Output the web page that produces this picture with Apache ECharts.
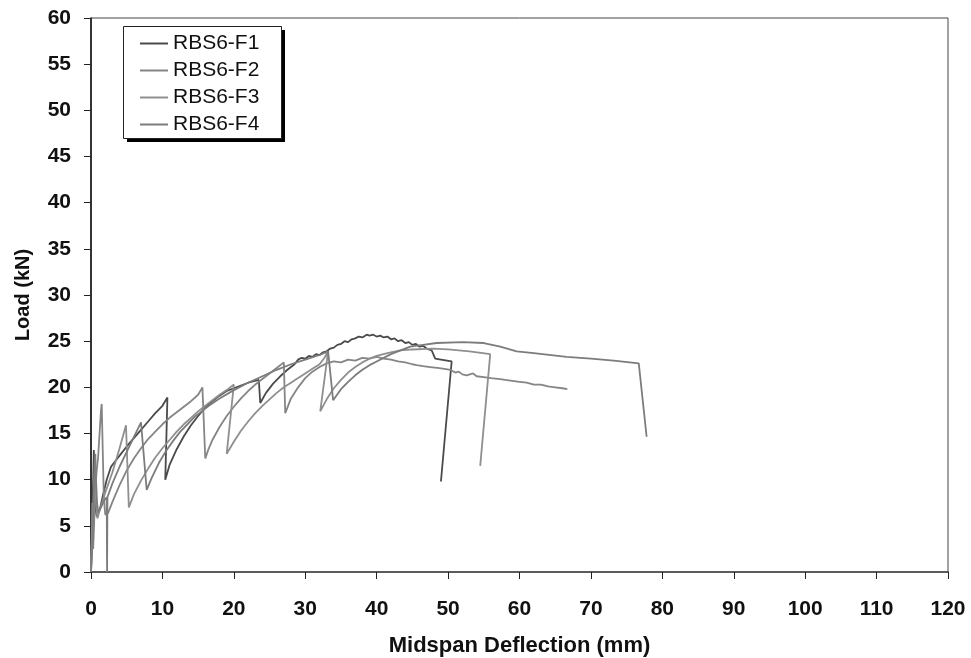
<!DOCTYPE html>
<html>
<head>
<meta charset="utf-8">
<script src="https://cdn.jsdelivr.net/npm/echarts@6/dist/echarts.min.js"></script>
<style>html,body{margin:0;padding:0;background:#fff}#c{width:971px;height:658px}</style>
</head>
<body>
<div id="c"></div>
<script>
var seriesNames = ['RBS6-F1', 'RBS6-F2', 'RBS6-F3', 'RBS6-F4'];
var xTicks = [0, 10, 20, 30, 40, 50, 60, 70, 80, 90, 100, 110, 120];
var yTicks = [0, 5, 10, 15, 20, 25, 30, 35, 40, 45, 50, 55, 60];

var f1 = [[0,0],[0.1,2.5],[0.2,6],[0.3,10],[0.4,13.2],[0.5,10],[0.6,7],[0.8,6],[1.0,6.2],[1.3,7],[1.7,8.4],[2.2,10.0],[2.8,11.4],[4,12.6],[5,13.6],[6,14.5],[7,15.4],[8,16.3],[9,17.2],[10,18.0],[10.7,18.9],[10.4,10.0],[11,11.6],[12,13.3],[13,14.7],[14,15.9],[15,16.9],[16,17.8],[17,18.5],[18,19.1],[19,19.6],[20,19.9],[21,20.2],[22,20.5],[23.5,20.8],[23.7,18.3],[24.5,19.4],[25.5,20.4],[26.5,21.2],[27.5,21.9],[28.5,22.5],[29,23.0],[29.5,23.2],[30,23.1],[30.5,23.4],[31,23.3],[31.5,23.6],[32,23.5],[32.5,23.8],[33,23.9],[33.5,24.2],[34,24.3],[34.5,24.6],[35,24.7],[35.5,25.0],[36,24.9],[36.5,25.2],[37,25.3],[37.5,25.5],[38,25.4],[38.6,25.7],[39,25.6],[39.5,25.7],[40,25.5],[40.5,25.6],[41,25.4],[41.5,25.5],[42,25.2],[42.5,25.3],[43,25.0],[43.5,25.1],[44,24.8],[44.5,24.9],[45,24.6],[45.5,24.7],[46,24.4],[46.5,24.5],[47,24.2],[47.7,24.0],[48.2,23.1],[49,23.0],[50.5,22.8],[49.0,9.8]];

var f2 = [[0,0],[0.05,1.5],[0.15,4],[0.3,2.5],[0.45,5.5],[0.6,9],[0.8,11],[1.0,12.5],[1.2,15],[1.4,17.5],[1.5,18.2],[1.65,13],[1.8,8],[2.0,6.2],[2.4,6.4],[3,7.6],[4,9.4],[5,11.0],[6,12.3],[7,13.4],[8,14.4],[9,15.2],[10,16.0],[11,16.7],[12,17.3],[13,17.9],[14,18.5],[15,19.2],[15.6,20.0],[16.0,12.3],[16.4,13.2],[17,14.3],[18,15.7],[19,16.9],[20,17.9],[21,18.8],[22,19.6],[23,20.3],[24,20.9],[25,21.5],[26,22.1],[27.0,22.7],[27.2,17.2],[28,18.8],[29,20.0],[30,21.0],[31,21.7],[32,22.2],[33,22.6],[34,22.8],[35,22.7],[36,23.0],[37,22.9],[38,23.2],[39,23.1],[40,23.3],[41,23.1],[42,23.0],[43,22.8],[44,22.7],[45,22.5],[45.6,22.4],[46.5,22.3],[47.5,22.2],[48.5,22.1],[49.5,22.0],[50.3,21.9],[51,21.6],[51.5,21.7],[52,21.4],[52.6,21.3],[53.5,21.5],[54,21.2],[55,21.1],[56,21.0],[57.3,20.9],[58,20.8],[59,20.7],[60,20.6],[61,20.5],[62,20.3],[63,20.3],[64,20.1],[65,20.0],[66,19.9],[66.7,19.8]];

var f3 = [[0,0],[0.1,3.5],[0.2,7.5],[0.3,5],[0.4,9],[0.55,11],[0.7,8],[0.9,5.8],[1.2,6.6],[2,8.6],[3,10.8],[4,13.4],[4.9,15.9],[5.3,7.0],[6,8.4],[7,9.9],[8,11.2],[9,12.4],[10,13.4],[11,14.3],[12,15.2],[13,16.0],[14,16.7],[15,17.4],[16,18.0],[17,18.6],[18,19.2],[19,19.7],[20,20.3],[19.0,12.8],[20,14.1],[21,15.3],[22,16.3],[23,17.2],[24,18.0],[25,18.7],[26,19.4],[27,20.0],[28,20.5],[29,21.0],[30,21.5],[31,22.0],[32,22.5],[32.7,23.2],[33.2,23.9],[32.1,17.4],[33,18.7],[34,19.9],[35,20.8],[36,21.6],[37,22.2],[38,22.7],[39,23.1],[40,23.4],[41.5,23.7],[43.3,24.0],[45,24.1],[47.9,24.2],[50,24.1],[53,23.9],[55.9,23.6],[54.5,11.5]];

var f4 = [[0,0],[0.1,1.5],[0.2,3],[0.3,6.5],[0.4,9],[0.5,11.5],[0.6,12.8],[0.7,10],[0.85,7.5],[1.0,6.5],[1.4,7],[1.8,7.7],[2.2,8.1],[2.25,0],[2.3,8.1],[3,9.6],[4,11.4],[5,13.0],[6,14.6],[7,16.2],[7.8,8.9],[8.5,10.2],[9.5,11.8],[10.5,13.1],[11.5,14.2],[12.5,15.2],[13.5,16.0],[14.5,16.8],[15.5,17.4],[16.5,18.0],[18,18.8],[20,19.7],[22,20.5],[24,21.2],[26,21.9],[28,22.5],[30,23.0],[32,23.5],[33.2,23.9],[33.9,18.6],[35,19.8],[36,20.6],[37,21.3],[38,21.9],[39,22.4],[40,22.8],[42,23.6],[44.7,24.4],[46.5,24.6],[48.4,24.8],[52,24.9],[55,24.8],[57.3,24.4],[59.6,23.9],[62,23.7],[66.6,23.3],[70,23.1],[73.2,22.9],[76.7,22.6],[77.8,14.65]];

var seriesData = [f1, f2, f3, f4];
var colors = ['#4a4a4a', '#858585', '#8f8f8f', '#7c7c7c'];

var chart = echarts.init(document.getElementById('c'), null, {renderer: 'canvas'});
var font = 'Liberation Sans, Arial, Helvetica, sans-serif';
chart.setOption({
  animation: false,
  backgroundColor: '#fff',
  color: colors,
  grid: {left: 91, right: 23, top: 18, bottom: 86, show: true, borderColor: '#444', borderWidth: 1, backgroundColor: 'transparent', containLabel: false, outerBoundsMode: 'none'},
  graphic: [
    {type: 'rect', z: 5, shape: {x: 127, y: 30, width: 158, height: 112}, style: {fill: '#000'}},
    {type: 'rect', z: 6, shape: {x: 123.5, y: 26.5, width: 158, height: 112}, style: {fill: '#fff', stroke: '#222', lineWidth: 1}}
  ],
  legend: {
    orient: 'vertical', left: 123, top: 26, z: 20,
    data: seriesNames,
    icon: 'rect', itemWidth: 28, itemHeight: 2, itemGap: 6,
    padding: [7, 16, 5, 17],
    textStyle: {fontFamily: font, fontSize: 21, color: '#111', lineHeight: 21}
  },
  xAxis: {
    type: 'value', min: 0, max: 120, interval: 10,
    name: 'Midspan Deflection (mm)', nameLocation: 'middle', nameGap: 63,
    nameTextStyle: {fontFamily: font, fontSize: 22, fontWeight: 'bold', color: '#111'},
    axisLine: {show: true, lineStyle: {color: '#444', width: 1.5}},
    axisTick: {show: true, inside: false, length: 7, lineStyle: {color: '#222'}},
    axisLabel: {margin: 27, fontFamily: font, fontSize: 21, fontWeight: 'bold', color: '#111',
      formatter: function (v) { return xTicks.indexOf(v) >= 0 ? String(v) : ''; }},
    splitLine: {show: false}
  },
  yAxis: {
    type: 'value', min: 0, max: 60, interval: 5,
    name: 'Load (kN)', nameLocation: 'middle', nameGap: 58,
    nameTextStyle: {fontFamily: font, fontSize: 20, fontWeight: 'bold', color: '#111'},
    axisLine: {show: true, lineStyle: {color: '#111', width: 1.5}},
    axisTick: {show: true, inside: false, length: 7, lineStyle: {color: '#222'}},
    axisLabel: {margin: 20, fontFamily: font, fontSize: 21, fontWeight: 'bold', color: '#111',
      formatter: function (v) { return yTicks.indexOf(v) >= 0 ? String(v) : ''; }},
    splitLine: {show: false}
  },
  series: seriesNames.map(function (n, i) {
    return {
      name: n, type: 'line', data: seriesData[i], showSymbol: false, symbol: 'none',
      lineStyle: {width: 1.8, color: colors[i]}, itemStyle: {color: colors[i]},
      clip: true
    };
  })
});
</script>
</body>
</html>
